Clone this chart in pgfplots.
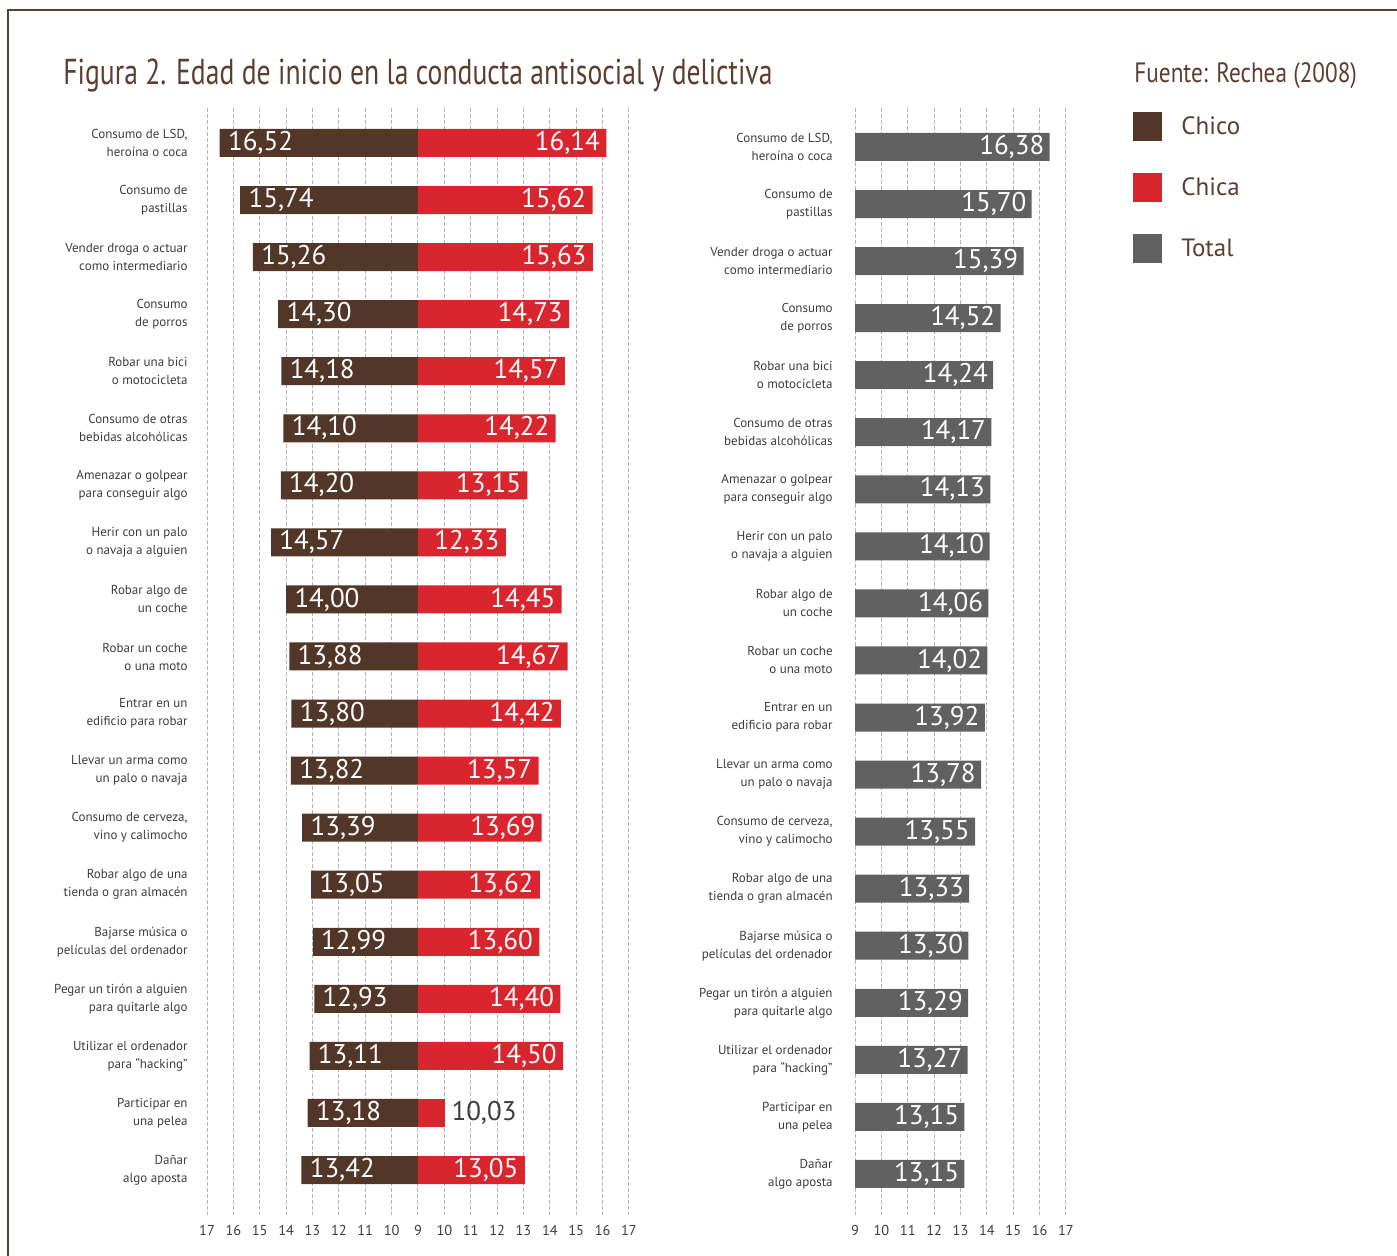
\documentclass[border=0pt]{standalone}
\usepackage{pgfplots}
\pgfplotsset{compat=1.18}
\usepackage{pgfplotstable}
\usepackage{fontspec}
\setmainfont{PT Sans}

\definecolor{chico}{HTML}{523628}
\definecolor{chica}{HTML}{D9262E}
\definecolor{total}{HTML}{616161}
\definecolor{marron}{HTML}{5C3D2E}
\definecolor{texto}{HTML}{3D3D3D}
\definecolor{rejilla}{HTML}{B4B4B4}

% edad media de inicio por conducta
\pgfplotstableread{
idx chico chica total
0  16.52 16.14 16.38
1  15.74 15.62 15.70
2  15.26 15.63 15.39
3  14.30 14.73 14.52
4  14.18 14.57 14.24
5  14.10 14.22 14.17
6  14.20 13.15 14.13
7  14.57 12.33 14.10
8  14.00 14.45 14.06
9  13.88 14.67 14.02
10 13.80 14.42 13.92
11 13.82 13.57 13.78
12 13.39 13.69 13.55
13 13.05 13.62 13.33
14 12.99 13.60 13.30
15 12.93 14.40 13.29
16 13.11 14.50 13.27
17 13.18 10.03 13.15
18 13.42 13.05 13.15
}\datos

\newcommand{\valfont}{\fontsize{13.5}{14}\selectfont}
\newcommand{\valor}{\pgfmathprintnumber[fixed,fixed zerofill,precision=2,use comma,assume math mode=true]{\pgfplotspointmeta}}

\pgfplotsset{
  categorias/.style={yticklabels={
    {Consumo de LSD,\\heroína o coca},
    {Consumo de\\pastillas},
    {Vender droga o actuar\\como intermediario},
    {Consumo\\de porros},
    {Robar una bici\\o motocicleta},
    {Consumo de otras\\bebidas alcohólicas},
    {Amenazar o golpear\\para conseguir algo},
    {Herir con un palo\\o navaja a alguien},
    {Robar algo de\\un coche},
    {Robar un coche\\o una moto},
    {Entrar en un\\edificio para robar},
    {Llevar un arma como\\un palo o navaja},
    {Consumo de cerveza,\\vino y calimocho},
    {Robar algo de una\\tienda o gran almacén},
    {Bajarse música o\\películas del ordenador},
    {Pegar un tirón a alguien\\para quitarle algo},
    {Utilizar el ordenador\\para “hacking”},
    {Participar en\\una pelea},
    {Dañar\\algo aposta}}},
  panel/.style={
    scale only axis, height=553.5pt, y dir=reverse, anchor=south west,
    ytick={0,...,18}, categorias,
    axis line style={draw=none}, major tick style={draw=none}, major tick length=0pt,
    xmajorgrids, grid style={rejilla, line width=0.5pt, dash pattern=on 2pt off 1pt},
    yticklabel style={anchor=east, inner sep=0pt, align=right, text=texto,
      font=\fontsize{6.5}{9}\selectfont},
    xticklabel style={anchor=center, inner sep=0pt, yshift=-7.5pt, text=texto,
      font=\fontsize{7.2}{8}\selectfont},
    clip=false,
  },
  barra/.style={xbar, bar width=14pt, bar shift=0pt, draw=none, forget plot,
    point meta=explicit, nodes near coords={\valor}},
}

\begin{document}
\begin{tikzpicture}[x=0.5pt, y=-0.5pt]
\path[use as bounding box] (0,0) rectangle (1397,1256);
\draw[marron, line width=1pt] (8,1270) -- (8,10) -- (1410,10);

\node[anchor=base west, text=marron, inner sep=0pt] at (63,85)
  {\scalebox{0.768}[1]{\fontsize{18}{20}\selectfont Figura 2. Edad de inicio en la conducta antisocial y delictiva}};
\node[anchor=base west, text=marron, inner sep=0pt] at (1134,83)
  {\scalebox{0.83}[1]{\fontsize{14}{16}\selectfont Fuente: Rechea (2008)}};

\coordinate (LA) at (207,1215);
\coordinate (RA) at (855,1215);

% panel izquierdo: chico hacia la izquierda, chica hacia la derecha, desde 9
\begin{axis}[panel, at={(LA)}, width=211pt,
  xmin=-8, xmax=8, ymin=-0.613, ymax=18.789,
  xtick={-8,...,8}, xticklabels={17,16,15,14,13,12,11,10,9,10,11,12,13,14,15,16,17},
  yticklabel style={xshift=-9.5pt}]
\addplot[barra, fill=chico,
  every node near coord/.append style={anchor=west, xshift=4pt, inner sep=0pt, text=white, font=\valfont}]
  table[x expr=9-\thisrow{chico}, y=idx, meta=chico]{\datos};
\addplot[barra, fill=chica, skip coords between index={17}{18},
  every node near coord/.append style={anchor=east, xshift=-3pt, inner sep=0pt, text=white, font=\valfont}]
  table[x expr=\thisrow{chica}-9, y=idx, meta=chica]{\datos};
% barra corta: la cifra va fuera
\addplot[barra, fill=chica, skip coords between index={0}{17}, skip coords between index={18}{19},
  every node near coord/.append style={anchor=west, xshift=3pt, inner sep=0pt, text=texto, font=\valfont}]
  table[x expr=\thisrow{chica}-9, y=idx, meta=chica]{\datos};
\end{axis}

% panel derecho: total
\begin{axis}[panel, at={(RA)}, width=105.5pt,
  xmin=0, xmax=8, ymin=-0.683, ymax=18.72,
  xtick={0,...,8}, xticklabels={9,10,11,12,13,14,15,16,17},
  yticklabel style={xshift=-11pt},
  legend style={at={(1.3175,0.9964)}, anchor=north west, draw=none, fill=none,
    inner sep=0pt, row sep=16pt, text=marron, font=\fontsize{12.5}{14}\selectfont,
    nodes={inner sep=0pt}, /tikz/every odd column/.append style={column sep=9.5pt}},
  legend cell align=left,
  legend image code/.code={\fill[#1, draw=none] (0pt,-7.25pt) rectangle (14.5pt,7.25pt);}]
\addlegendimage{fill=chico, draw=none}
\addlegendentry{Chico}
\addlegendimage{fill=chica, draw=none}
\addlegendentry{Chica}
\addlegendimage{fill=total, draw=none}
\addlegendentry{Total}
\addplot[barra, fill=total,
  every node near coord/.append style={anchor=east, xshift=-2.5pt, inner sep=0pt, text=white, font=\valfont}]
  table[x expr=\thisrow{total}-9, y=idx, meta=total]{\datos};
\end{axis}
\end{tikzpicture}
\end{document}
